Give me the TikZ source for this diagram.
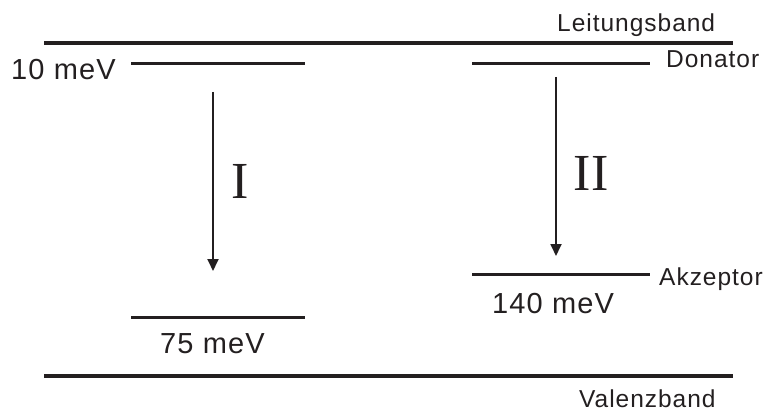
\documentclass[tikz,border=0pt]{standalone}
\usepackage{fontspec}
\setmainfont{Liberation Serif}
\newfontfamily\labfont[LetterSpace=4]{Liberation Sans}
\usetikzlibrary{arrows.meta}
\definecolor{ink}{HTML}{231F20}
\begin{document}
\begin{tikzpicture}[x=1pt,y=-1pt,
  band/.style={draw=ink,line width=4pt},
  level/.style={draw=ink,line width=3pt},
  trans/.style={draw=ink,line width=1.8pt,-{Triangle[width=11pt,length=12pt]}},
  biglab/.style={inner sep=0pt,anchor=base west,font=\labfont\fontsize{29}{30}\selectfont,text=ink},
  smalllab/.style={inner sep=0pt,anchor=base west,font=\labfont\fontsize{24.5}{26}\selectfont,text=ink},
  roman/.style={inner sep=0pt,anchor=base,font=\fontsize{52}{54}\selectfont,text=ink}]
\useasboundingbox (0,0) rectangle (769,412);
% bands
\coordinate (cbL) at (44,43); \coordinate (cbR) at (733,43);
\coordinate (vbL) at (44,376); \coordinate (vbR) at (733,376);
\draw[band] (cbL) -- (cbR);
\draw[band] (vbL) -- (vbR);
% levels
\coordinate (d1L) at (131,64); \coordinate (d1R) at (305,64);
\coordinate (a1L) at (131,317); \coordinate (a1R) at (305,317);
\coordinate (d2L) at (472,64); \coordinate (d2R) at (650,64);
\coordinate (a2L) at (472,274); \coordinate (a2R) at (650,274);
\draw[level] (d1L) -- (d1R);
\draw[level] (a1L) -- (a1R);
\draw[level] (d2L) -- (d2R);
\draw[level] (a2L) -- (a2R);
% transitions
\coordinate (t1s) at (213,92); \coordinate (t1e) at (213,271);
\coordinate (t2s) at (556,77); \coordinate (t2e) at (556,256);
\draw[trans] (t1s) -- (t1e);
\draw[trans] (t2s) -- (t2e);
% labels
\node[smalllab] (lb) at (557,32) {Leitungsband};
\node[smalllab] (vb) at (579,407) {Valenzband};
\node[smalllab] (don) at (666,68) {Donator};
\node[smalllab] (akz) at (659,285) {Akzeptor};
\node[biglab] (e10) at (11,80) {10 meV};
\node[biglab] (e75) at (160,353) {75 meV};
\node[biglab] (e140) at (492,313) {140 meV};
\node[roman] (rI) at (240,198) {I};
\node[roman] (rII) at (591,190) {II};
\end{tikzpicture}
\end{document}
